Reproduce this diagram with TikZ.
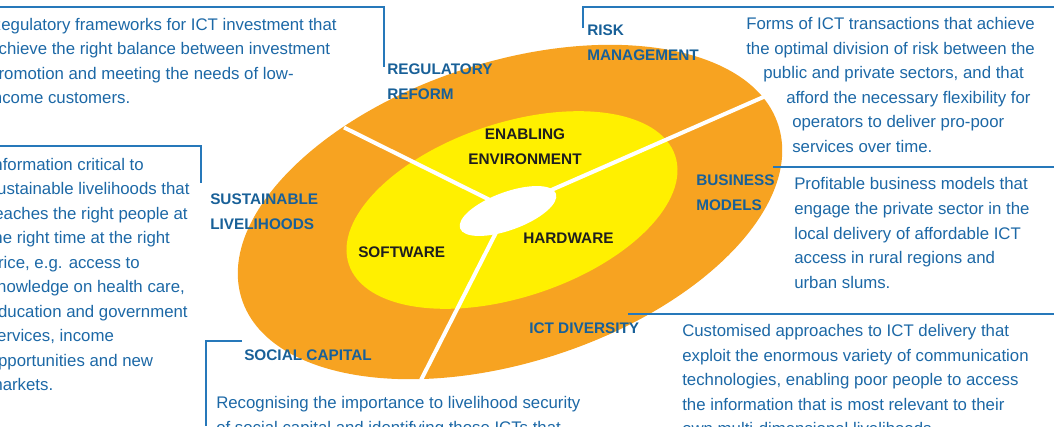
\documentclass[tikz,border=0pt]{standalone}
\usepackage{fontspec}
\setmainfont{Liberation Sans}
\definecolor{ringorange}{RGB}{247,163,33}
\definecolor{coreyellow}{RGB}{255,240,0}
\definecolor{textblue}{RGB}{28,104,166}
\definecolor{labelblue}{RGB}{24,96,152}
\definecolor{ruleblue}{RGB}{38,120,186}
\definecolor{darktext}{RGB}{30,30,30}
\tikzset{
  bodytext/.style={anchor=base west, inner sep=0pt, align=left, text=textblue,
    font=\fontsize{12.6}{18.4}\selectfont},
  ringlabel/.style={anchor=base west, inner sep=0pt, align=left, text=labelblue,
    font=\bfseries\fontsize{11.5}{18.4}\selectfont},
  corelabel/.style={inner sep=0pt, text=darktext,
    font=\bfseries\fontsize{11.5}{18.4}\selectfont},
  rule/.style={draw=ruleblue, line width=1.4pt},
  spoke/.style={draw=white, line width=3pt}
}
\begin{document}
\begin{tikzpicture}[x=0.75pt,y=-0.75pt]
\useasboundingbox (0,0) rectangle (1054,426);
\clip (0,0) rectangle (1054,426);
% rings
\coordinate (oc) at (510,212);
\coordinate (yc) at (512,210);
\coordinate (wc) at (508,211);
\fill[ringorange, rotate around={18:(oc)}] (oc) ellipse [x radius=211.5pt, y radius=112.5pt];
\fill[coreyellow, rotate around={18.4:(yc)}] (yc) ellipse [x radius=129pt, y radius=65.25pt];
\fill[white, rotate around={20:(wc)}] (wc) ellipse [x radius=38.25pt, y radius=14.25pt];
% spokes
\coordinate (hub) at (508,209);
\coordinate (sp1) at (344,127.5);
\coordinate (sp2) at (771,93.7);
\coordinate (sp3) at (421,380);
\draw[spoke] (hub) -- (sp1);
\draw[spoke] (hub) -- (sp2);
\draw[spoke] (hub) -- (sp3);
% rules
\coordinate (r1a) at (0,7); \coordinate (r1b) at (384,7); \coordinate (r1c) at (384,67);
\coordinate (r2a) at (583,28); \coordinate (r2b) at (583,7); \coordinate (r2c) at (1054,7);
\coordinate (r3a) at (773,167); \coordinate (r3b) at (1054,167);
\coordinate (r4a) at (0,146); \coordinate (r4b) at (201,146); \coordinate (r4c) at (201,183);
\coordinate (r5a) at (628,314); \coordinate (r5b) at (1054,314);
\coordinate (r6a) at (242,341); \coordinate (r6b) at (206,341); \coordinate (r6c) at (206,426);
\draw[rule] (r1a) -- (r1b) -- (r1c);
\draw[rule] (r2a) -- (r2b) -- (r2c);
\draw[rule] (r3a) -- (r3b);
\draw[rule] (r4a) -- (r4b) -- (r4c);
\draw[rule] (r5a) -- (r5b);
\draw[rule] (r6a) -- (r6b) -- (r6c);
% core labels
\node[corelabel, align=center] (enabling) at (525,146.5) {ENABLING\\ENVIRONMENT};
\node[corelabel, anchor=base west] (software) at (358,257.5) {SOFTWARE};
\node[corelabel, anchor=base west] (hardware) at (523,243.5) {HARDWARE};
% ring labels (anchor = baseline of last line)
\node[ringlabel] (regulatory) at (387,99) {REGULATORY\\REFORM};
\node[ringlabel] (risk) at (587,60.5) {RISK\\MANAGEMENT};
\node[ringlabel] (sustainable) at (210,229.5) {SUSTAINABLE\\LIVELIHOODS};
\node[ringlabel] (business) at (696,210) {BUSINESS\\MODELS};
\node[ringlabel] (ictdiv) at (529,333.5) {ICT DIVERSITY};
\node[ringlabel] (social) at (244,360.5) {SOCIAL CAPITAL};
% body texts (anchor = baseline of last line)
\node[bodytext] (regtext) at (-11,103.6) {Regulatory frameworks for ICT investment that\\achieve the right balance between investment\\promotion and meeting the needs of low-\\income customers.};
\node[bodytext] (risktext) at (746,152.2) {Forms of ICT transactions that achieve\\the optimal division of risk between the\\\hspace*{12.75pt}public and private sectors, and that\\\hspace*{30pt}afford the necessary flexibility for\\\hspace*{34.5pt}operators to deliver pro-poor\\\hspace*{34.5pt}services over time.};
\node[bodytext] (sustext) at (-11.5,390.8) {Information critical to\\sustainable livelihoods that\\reaches the right people at\\the right time at the right\\price, e.g. access to\\knowledge on health care,\\education and government\\services, income\\opportunities and new\\markets.};
\node[bodytext] (bustext) at (794,288.1) {Profitable business models that\\engage the private sector in the\\local delivery of affordable ICT\\access in rural regions and\\urban slums.};
\node[bodytext] (icttext) at (682,434.8) {Customised approaches to ICT delivery that\\exploit the enormous variety of communication\\technologies, enabling poor people to access\\the information that is most relevant to their\\own multi-dimensional livelihoods.};
\node[bodytext] (soctext) at (216,433.5) {Recognising the importance to livelihood security\\of social capital and identifying those ICTs that};
\end{tikzpicture}
\end{document}
